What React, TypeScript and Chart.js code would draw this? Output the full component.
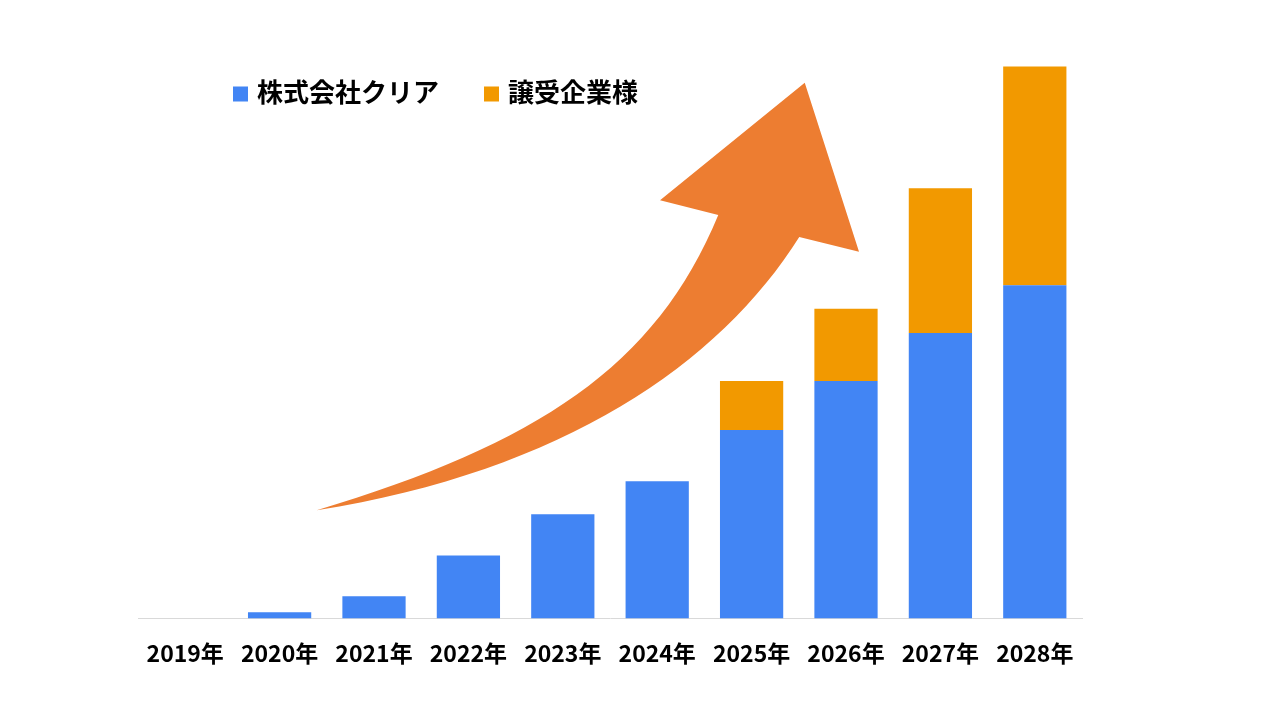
import { useEffect, useRef } from 'react';
import { Chart, registerables, Plugin } from 'chart.js';

Chart.register(...registerables);

const years = ['2019年', '2020年', '2021年', '2022年', '2023年', '2024年', '2025年', '2026年', '2027年', '2028年'];
const clearValues = [0, 1.1, 4.0, 11.4, 18.9, 24.9, 34.2, 43.1, 51.8, 60.5];
const buyerValues = [0, 0, 0, 0, 0, 0, 8.9, 13.1, 26.3, 39.7];
const seriesNames = ['株式会社クリア', '譲受企業様'];
const seriesColors = ['#4285F4', '#F29900'];

// decorative arrow in [category index, value] units: cubic curves (start, ctrl, ctrl, end) + head
const arrowUpper = [[1.393, 19.62], [3.727, 31.63], [4.983, 45.63], [5.647, 73.21]];
const arrowHead = [[5.03, 75.93], [6.563, 97.24], [7.138, 66.54], [6.505, 69.26]];
const arrowLower = [[6.505, 69.26], [5.659, 46.21], [4.006, 26.79], [1.393, 19.62]];

const FONT = "'Noto Sans CJK JP', 'Noto Sans', sans-serif";

const arrowPlugin: Plugin = {
  id: 'arrow',
  afterDatasetsDraw(chart) {
    const { ctx, scales } = chart;
    const toPx = (p: number[]) => [scales.x.getPixelForValue(p[0]), scales.y.getPixelForValue(p[1])];
    const up = arrowUpper.map(toPx);
    const low = arrowLower.map(toPx);
    ctx.save();
    ctx.fillStyle = '#ED7D31';
    ctx.beginPath();
    ctx.moveTo(up[0][0], up[0][1]);
    ctx.bezierCurveTo(up[1][0], up[1][1], up[2][0], up[2][1], up[3][0], up[3][1]);
    arrowHead.map(toPx).forEach((p) => ctx.lineTo(p[0], p[1]));
    ctx.lineTo(low[0][0], low[0][1]);
    ctx.bezierCurveTo(low[1][0], low[1][1], low[2][0], low[2][1], low[3][0], low[3][1]);
    ctx.closePath();
    ctx.fill();
    ctx.restore();
  },
};

const legendPlugin: Plugin = {
  id: 'topLegend',
  afterDraw(chart) {
    const { ctx, chartArea } = chart;
    const box = 15;
    let x = chartArea.left + 95;
    const y = chartArea.top + 54;
    ctx.save();
    ctx.font = `bold 26px ${FONT}`;
    ctx.textBaseline = 'middle';
    ctx.textAlign = 'left';
    chart.data.datasets.forEach((ds) => {
      ctx.fillStyle = ds.backgroundColor as string;
      ctx.fillRect(x, y - box / 2, box, box);
      ctx.fillStyle = '#000000';
      const label = ds.label || '';
      ctx.fillText(label, x + box + 9, y - 2);
      x += box + 9 + ctx.measureText(label).width + 45;
    });
    ctx.restore();
  },
};

export default function App() {
  const canvasRef = useRef<HTMLCanvasElement>(null);

  useEffect(() => {
    if (!canvasRef.current) return;
    const chart = new Chart(canvasRef.current, {
      type: 'bar',
      data: {
        labels: years,
        datasets: [
          { label: seriesNames[0], data: clearValues, backgroundColor: seriesColors[0] },
          { label: seriesNames[1], data: buyerValues, backgroundColor: seriesColors[1] },
        ],
      },
      options: {
        responsive: false,
        animation: false,
        layout: { padding: { left: 138, right: 198, top: 40, bottom: 32 } },
        datasets: { bar: { barPercentage: 0.67, categoryPercentage: 1 } },
        plugins: { legend: { display: false }, tooltip: { enabled: false } },
        scales: {
          x: {
            stacked: true,
            grid: { display: false, drawTicks: false },
            border: { display: true, color: '#D9D9D9', width: 1 },
            ticks: { color: '#000000', padding: 21, font: { family: FONT, size: 23, weight: 'bold' } },
          },
          y: { stacked: true, display: false, min: 0, max: 105 },
        },
      },
      plugins: [arrowPlugin, legendPlugin],
    });
    return () => chart.destroy();
  }, []);

  return (
    <div style={{ position: 'fixed', left: 0, top: 0, width: 1280, height: 720, background: '#ffffff' }}>
      <canvas ref={canvasRef} width={1280} height={720} />
    </div>
  );
}
